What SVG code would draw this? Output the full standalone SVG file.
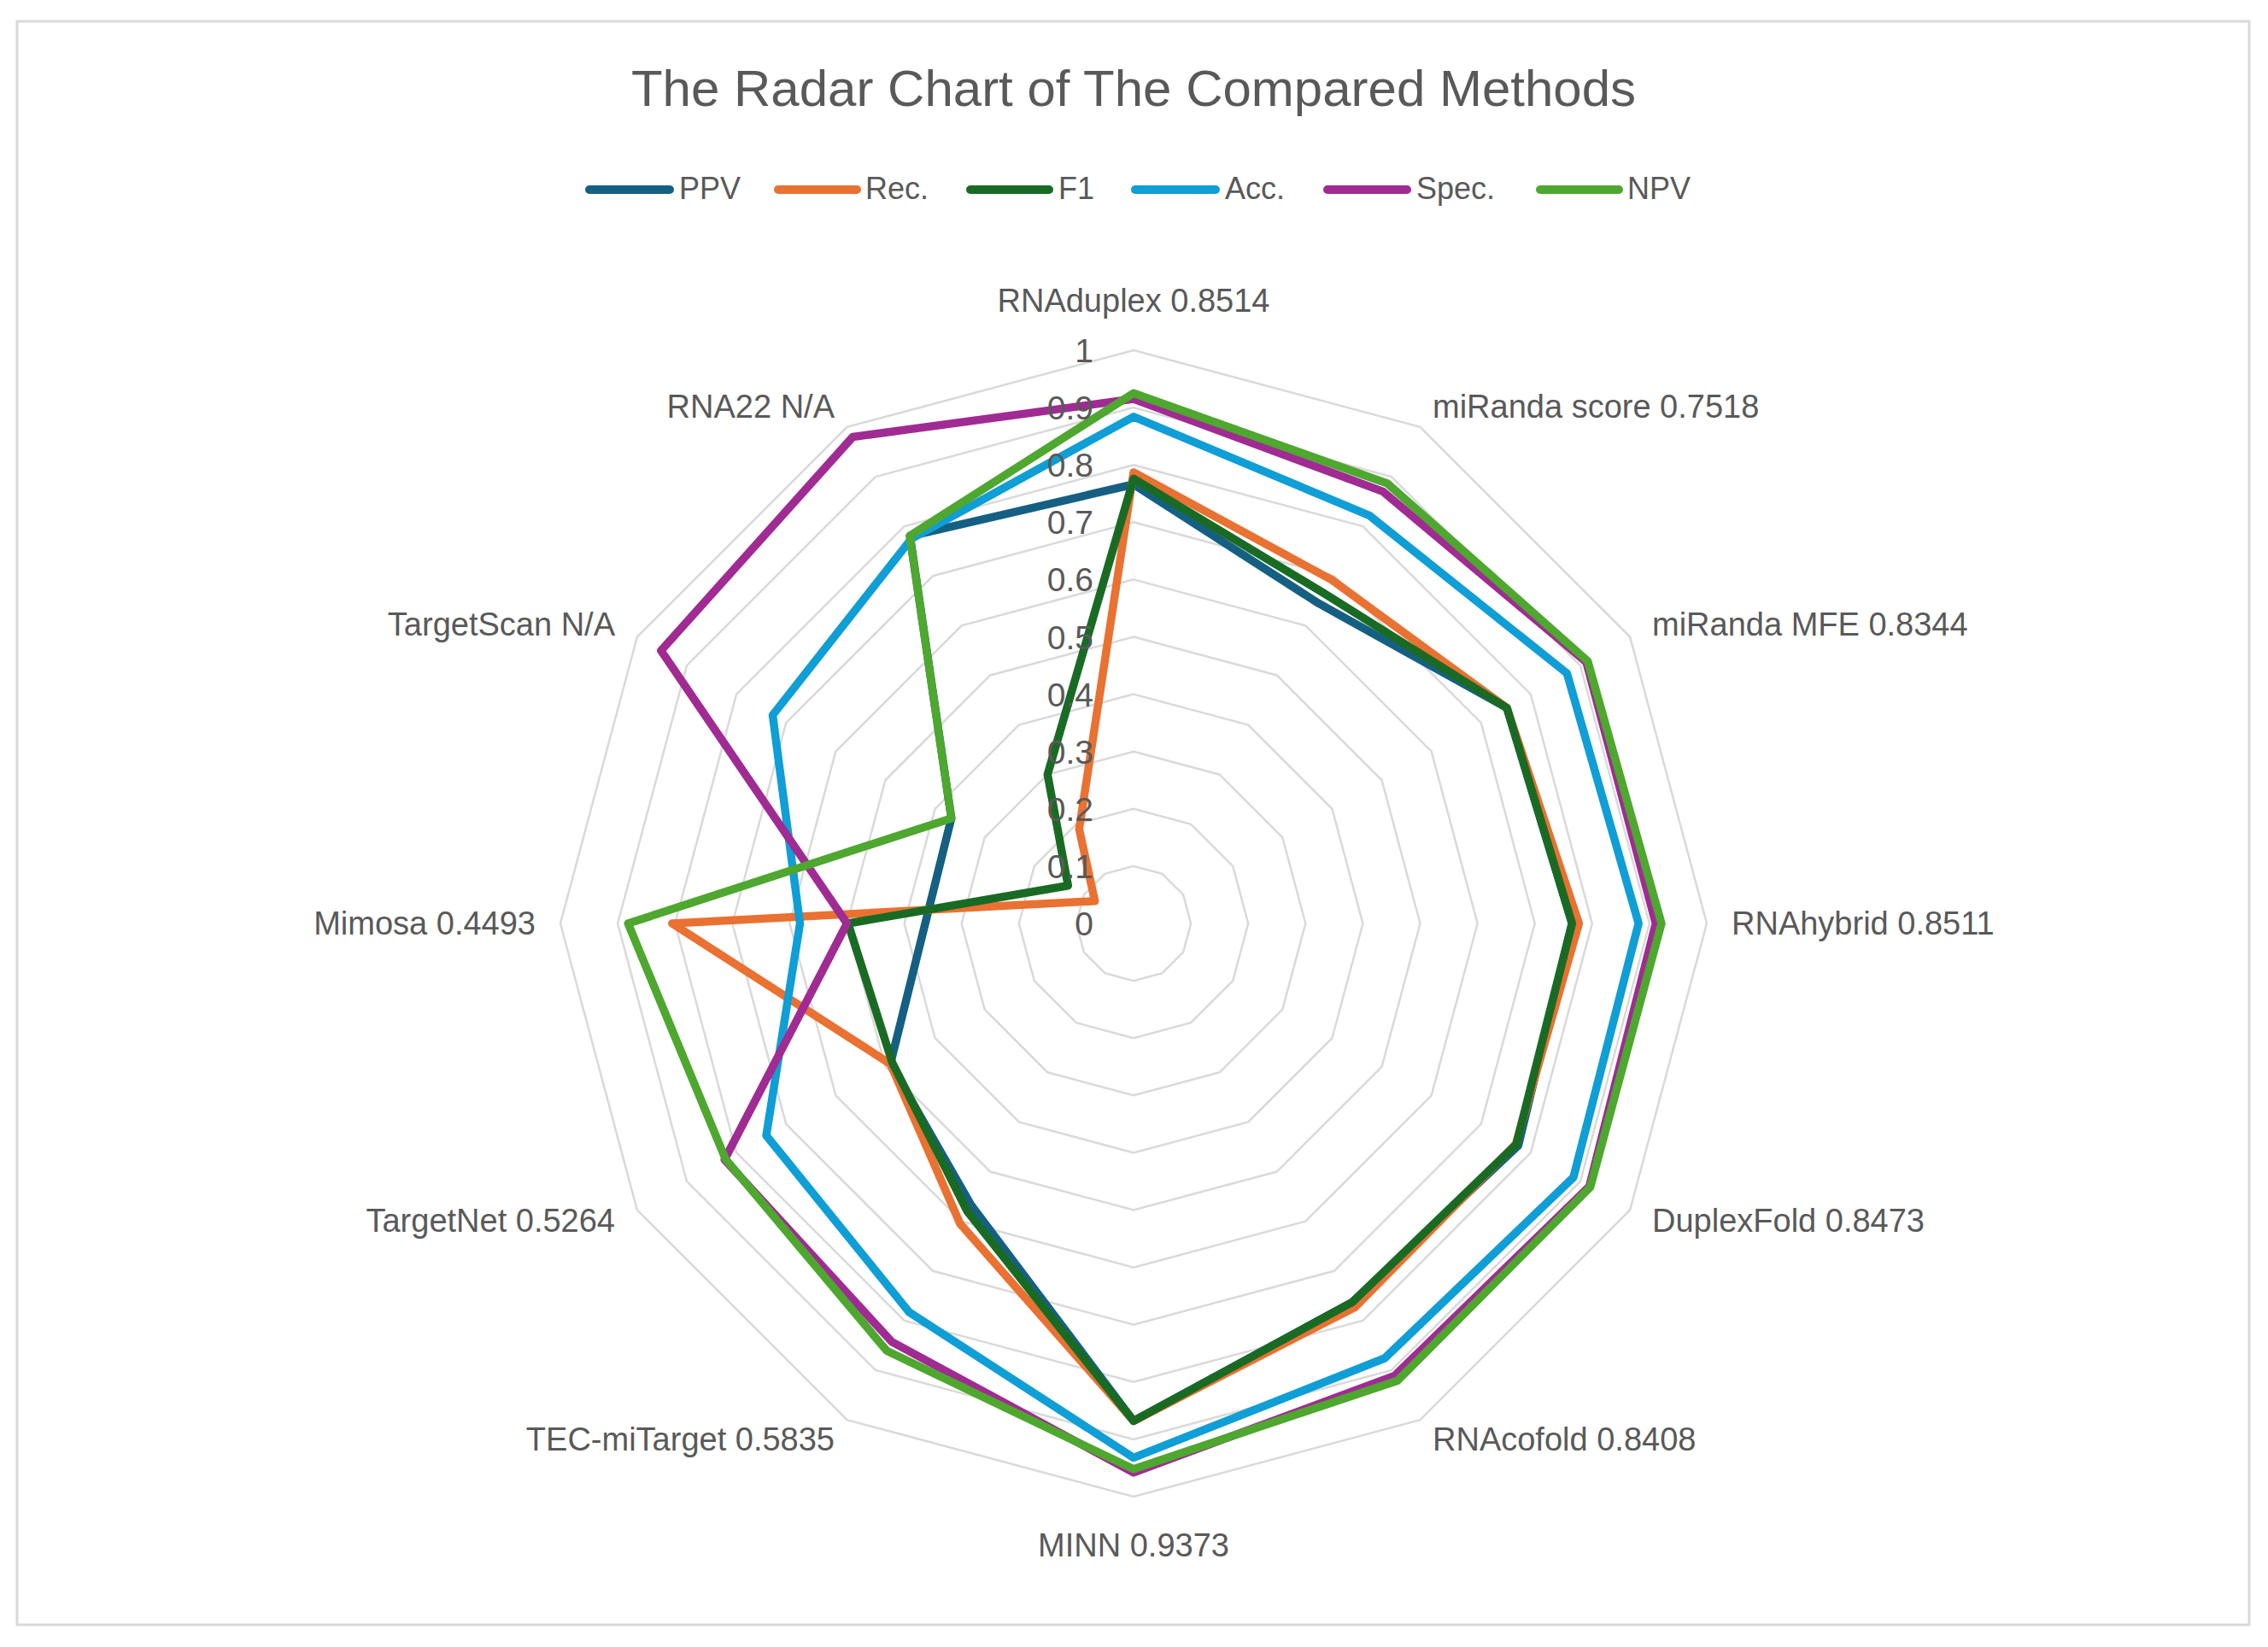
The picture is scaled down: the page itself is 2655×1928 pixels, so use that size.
<svg xmlns="http://www.w3.org/2000/svg" xmlns:xlink="http://www.w3.org/1999/xlink" width="2655" height="1928" viewBox="0 0 2655 1928">
<style>
text{font-family:"Liberation Sans",Arial,sans-serif;fill:#595959}
.title{font-size:60px}
.leg{font-size:36px}
.cat{font-size:38px}
.tick{font-size:39px;text-anchor:end}
.ring{fill:none;stroke:#d9d9d9;stroke-width:2.5;vector-effect:non-scaling-stroke}
.s{fill:none;stroke-width:9.5;stroke-linejoin:round;stroke-linecap:round}
.sw{stroke-width:10;stroke-linecap:round}
.ppv{stroke:#156082}.rec{stroke:#E97132}.f1{stroke:#196B24}.acc{stroke:#0F9ED5}.spec{stroke:#A02B93}.npv{stroke:#4EA72E}
</style>
<defs>
<polygon id="ring" class="ring" points="0,-671 335.5,-581.1 581.1,-335.5 671,0 581.1,335.5 335.5,581.1 0,671 -335.5,581.1 -581.1,335.5 -671,0 -581.1,-335.5 -335.5,-581.1"/>
</defs>
<rect x="0" y="0" width="2655" height="1928" fill="#ffffff"/>
<rect x="20" y="25" width="2613" height="1877" fill="#ffffff" stroke="#d9d9d9" stroke-width="3"/>
<g id="title"><text class="title" x="1327" y="124" text-anchor="middle">The Radar Chart of The Compared Methods</text></g>
<g id="legend">
<line class="sw ppv" x1="690" y1="222" x2="784" y2="222"/><text class="leg" x="795" y="233">PPV</text>
<line class="sw rec" x1="911" y1="222" x2="1003" y2="222"/><text class="leg" x="1013" y="233">Rec.</text>
<line class="sw f1" x1="1136" y1="222" x2="1228" y2="222"/><text class="leg" x="1239" y="233">F1</text>
<line class="sw acc" x1="1329" y1="222" x2="1423" y2="222"/><text class="leg" x="1434" y="233">Acc.</text>
<line class="sw spec" x1="1554" y1="222" x2="1647" y2="222"/><text class="leg" x="1658" y="233">Spec.</text>
<line class="sw npv" x1="1803" y1="222" x2="1895" y2="222"/><text class="leg" x="1905" y="233">NPV</text>
</g>
<g id="grid" transform="translate(1327,1081)">
<use xlink:href="#ring" transform="scale(0.1)"/>
<use xlink:href="#ring" transform="scale(0.2)"/>
<use xlink:href="#ring" transform="scale(0.3)"/>
<use xlink:href="#ring" transform="scale(0.4)"/>
<use xlink:href="#ring" transform="scale(0.5)"/>
<use xlink:href="#ring" transform="scale(0.6)"/>
<use xlink:href="#ring" transform="scale(0.7)"/>
<use xlink:href="#ring" transform="scale(0.8)"/>
<use xlink:href="#ring" transform="scale(0.9)"/>
<use xlink:href="#ring" transform="scale(1)"/>
</g>
<g id="connectors" transform="translate(1327,1081)">
<polygon class="s ppv" points="0,-514 216.4,-374.8 437,-252.3 513.3,0 450.4,260 256,443.4 0,582.4 -190.2,329.5 -284.7,164.4 -243.9,0 -213.3,-123.1 -261.7,-453.3"/>
<polygon class="s rec" points="0,-528.1 232.2,-402.1 437,-252.3 521.4,0 447.4,258.3 259.3,449.2 0,582.4 -203,351.6 -284.7,164.4 -540.2,0 -45.3,-26.2 -63.7,-110.4"/>
<polygon class="s f1" points="0,-520.7 223.1,-386.4 437,-252.3 513.3,0 448,258.7 256,443.4 0,582.4 -194.6,337 -282.4,163.1 -334.2,0 -76.7,-44.3 -100.7,-174.3"/>
<polygon class="s acc" points="0,-593.2 275.8,-477.7 507.3,-292.9 591.2,0 514.9,297.3 293.9,509 0,625.4 -262.7,455 -430,248.3 -390.5,0 -422.5,-243.9 -260,-450.4"/>
<polygon class="s spec" points="0,-614 291.9,-505.6 530,-306 611.3,0 533.5,308 305.6,529.4 0,642.8 -282.8,489.9 -478.8,276.5 -335.5,0 -553.2,-319.4 -328.8,-569.5"/>
<polygon class="s npv" points="0,-620.7 297.3,-514.9 531.7,-307 618,0 534.6,308.7 309,535.2 0,638.8 -288.9,500.3 -477.7,275.8 -591.8,0 -213.3,-123.1 -262,-453.8"/>
</g>
<g id="ticks">
<text class="tick" x="1280" y="1095">0</text>
<text class="tick" x="1280" y="1028">0.1</text>
<text class="tick" x="1280" y="961">0.2</text>
<text class="tick" x="1280" y="894">0.3</text>
<text class="tick" x="1280" y="827">0.4</text>
<text class="tick" x="1280" y="760">0.5</text>
<text class="tick" x="1280" y="692">0.6</text>
<text class="tick" x="1280" y="625">0.7</text>
<text class="tick" x="1280" y="558">0.8</text>
<text class="tick" x="1280" y="491">0.9</text>
<text class="tick" x="1280" y="424">1</text>
</g>
<g id="n-rnaduplex"><text class="cat" x="1327" y="365" text-anchor="middle">RNAduplex 0.8514</text></g>
<g id="n-miranda-score"><text class="cat" x="1677" y="489">miRanda score 0.7518</text></g>
<g id="n-miranda-mfe"><text class="cat" x="1934" y="744">miRanda MFE 0.8344</text></g>
<g id="n-rnahybrid"><text class="cat" x="2027" y="1094">RNAhybrid 0.8511</text></g>
<g id="n-duplexfold"><text class="cat" x="1934" y="1442">DuplexFold 0.8473</text></g>
<g id="n-rnacofold"><text class="cat" x="1677" y="1698">RNAcofold 0.8408</text></g>
<g id="n-minn"><text class="cat" x="1327" y="1822" text-anchor="middle">MINN 0.9373</text></g>
<g id="n-tec"><text class="cat" x="977" y="1698" text-anchor="end">TEC-miTarget 0.5835</text></g>
<g id="n-targetnet"><text class="cat" x="720" y="1442" text-anchor="end">TargetNet 0.5264</text></g>
<g id="n-mimosa"><text class="cat" x="627" y="1094" text-anchor="end">Mimosa 0.4493</text></g>
<g id="n-targetscan"><text class="cat" x="720" y="744" text-anchor="end">TargetScan N/A</text></g>
<g id="n-rna22"><text class="cat" x="977" y="489" text-anchor="end">RNA22 N/A</text></g>
</svg>
